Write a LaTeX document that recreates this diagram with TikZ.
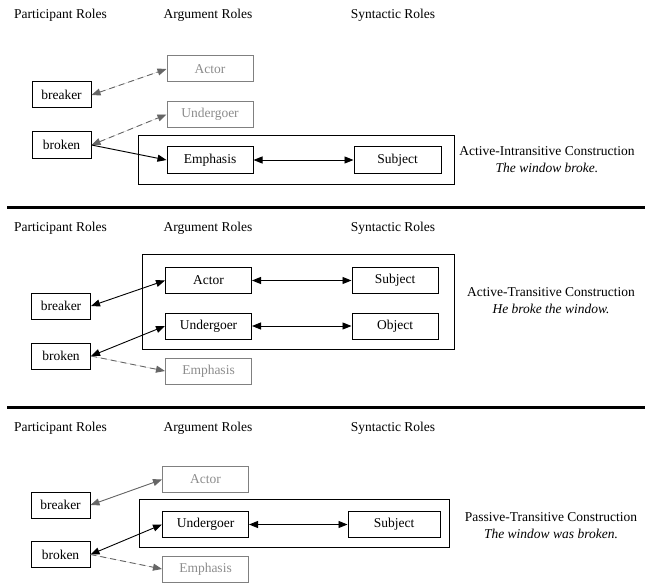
\documentclass[tikz,border=0pt]{standalone}
\usepackage{fontspec}
\setmainfont{Liberation Serif}
\usetikzlibrary{arrows.meta,positioning}

\definecolor{fadeText}{gray}{0.55}
\definecolor{fadeLine}{gray}{0.5}
\definecolor{linkGray}{gray}{0.4}

\tikzset{
  role/.style={draw, line width=1pt, minimum height=26pt, inner sep=0pt},
  partbox/.style={role, minimum width=59pt},
  argbox/.style={role, minimum width=86pt},
  faded/.style={draw=fadeLine, text=fadeText},
  link/.style={line width=0.9pt, >={Triangle[length=9pt,width=7pt]}},
  graylink/.style={link, draw=linkGray, fill=linkGray},
  dashlink/.style={graylink, dash pattern=on 6pt off 4pt},
  conbox/.style={draw, line width=1pt},
  rule/.style={line width=3pt},
  heading/.style={inner sep=0pt}
}

\begin{document}
\begin{tikzpicture}[x=1pt, y=-1pt, font=\fontsize{13.5}{17}\selectfont]
  \useasboundingbox (0,0) rectangle (645,583);

  % headings
  \foreach \y/\p in {15/A,228/B,428/C} {
    \node[heading] (part\p) at (60.5,\y) {Participant Roles};
    \node[heading] (arg\p) at (208,\y) {Argument Roles};
    \node[heading] (syn\p) at (393,\y) {Syntactic Roles};
  }

  % active-intransitive
  \draw[conbox] (138,136) rectangle (454,184);
  \node[partbox] (breakerA) at (61.5,95) {breaker};
  \node[partbox] (brokenA) at (61.5,145) {broken};
  \node[argbox, faded] (actorA) at (210,69) {Actor};
  \node[argbox, faded] (undergoerA) at (210,114.5) {Undergoer};
  \node[argbox] (emphasisA) at (210,160) {Emphasis};
  \node[role, minimum width=87pt] (subjectA) at (397.5,160) {Subject};
  \node[align=center] (labelA) at (547,159.5) {Active-Intransitive Construction\\\textit{The window broke.}};
  \draw[dashlink, <->] (breakerA.east) -- (actorA.west);
  \draw[dashlink, <->] (brokenA.east) -- (undergoerA.west);
  \draw[link, ->] (brokenA.east) -- (emphasisA.west);
  \draw[link, <->] (emphasisA) -- (subjectA);

  \draw[rule] (7,207.5) -- (645,207.5);

  % active-transitive
  \draw[conbox] (142,254) rectangle (454,349);
  \node[partbox] (breakerB) at (61,306) {breaker};
  \node[partbox] (brokenB) at (61,356) {broken};
  \node[argbox] (actorB) at (208.5,280.5) {Actor};
  \node[argbox] (undergoerB) at (208.5,326) {Undergoer};
  \node[argbox, faded] (emphasisB) at (208.5,371) {Emphasis};
  \node[role, minimum width=86pt] (subjectB) at (395,280.5) {Subject};
  \node[role, minimum width=86pt] (objectB) at (395,326) {Object};
  \node[align=center] (labelB) at (551,300.5) {Active-Transitive Construction\\\textit{He broke the window.}};
  \draw[link, <->] (breakerB.east) -- (actorB.west);
  \draw[link, <->] (brokenB.east) -- (undergoerB.west);
  \draw[dashlink, ->] (brokenB.east) -- (emphasisB.west);
  \draw[link, <->] (actorB) -- (subjectB);
  \draw[link, <->] (undergoerB) -- (objectB);

  \draw[rule] (7,407.5) -- (645,407.5);

  % passive-transitive
  \draw[conbox] (139,499) rectangle (449,547);
  \node[partbox] (breakerC) at (60.5,505) {breaker};
  \node[partbox] (brokenC) at (60.5,554.5) {broken};
  \node[argbox, faded] (actorC) at (205.5,479.5) {Actor};
  \node[argbox] (undergoerC) at (205.5,524.5) {Undergoer};
  \node[argbox, faded] (emphasisC) at (205.5,569) {Emphasis};
  \node[role, minimum width=92pt] (subjectC) at (394,524.5) {Subject};
  \node[align=center] (labelC) at (551,525.5) {Passive-Transitive Construction\\\textit{The window was broken.}};
  \draw[graylink, <->] (breakerC.east) -- (actorC.west);
  \draw[link, <->] (brokenC.east) -- (undergoerC.west);
  \draw[dashlink, ->] (brokenC.east) -- (emphasisC.west);
  \draw[link, <->] (undergoerC) -- (subjectC);
\end{tikzpicture}
\end{document}
